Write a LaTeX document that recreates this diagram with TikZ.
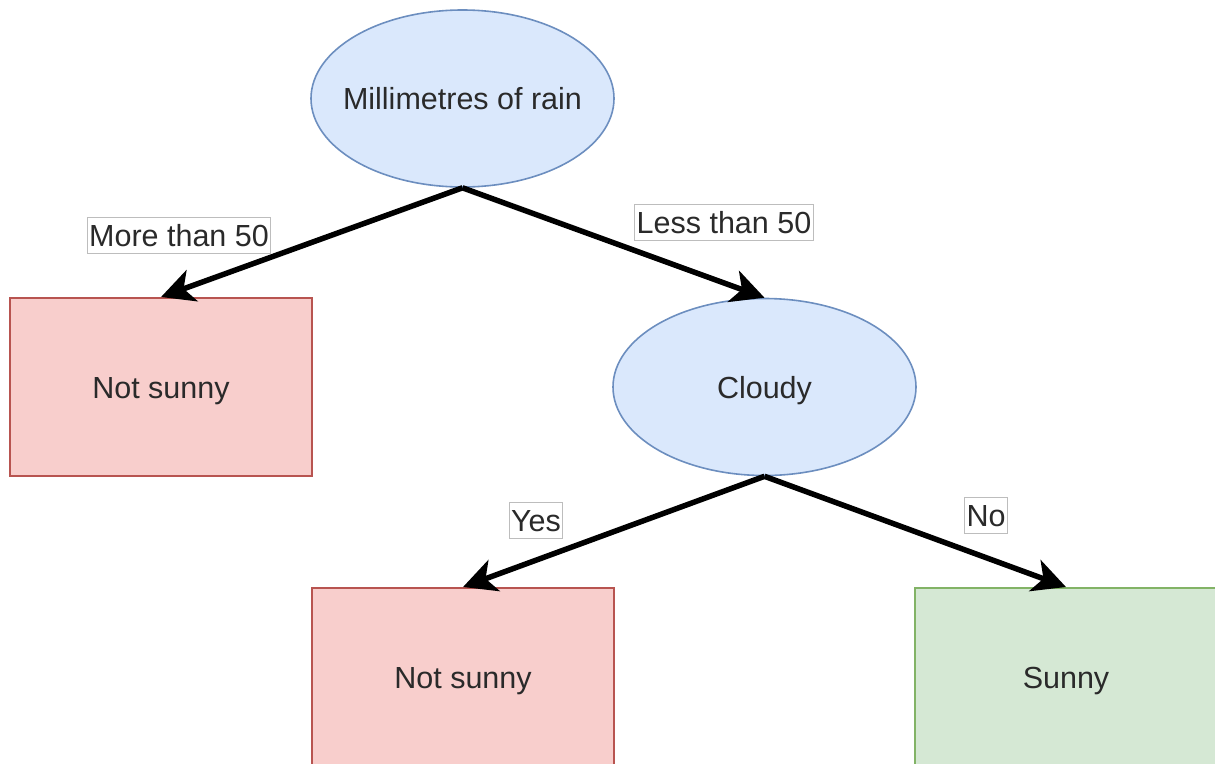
\documentclass[tikz,border=0pt]{standalone}
\usepackage{fontspec}
\setmainfont{Liberation Sans}
\usetikzlibrary{shapes.geometric,arrows.meta}
\definecolor{qfill}{HTML}{DAE8FC}
\definecolor{qline}{HTML}{6C8EBF}
\definecolor{nfill}{HTML}{F8CECC}
\definecolor{nline}{HTML}{B85450}
\definecolor{yfill}{HTML}{D5E8D4}
\definecolor{yline}{HTML}{82B366}
\definecolor{lblline}{HTML}{BDBDBD}
\definecolor{txt}{HTML}{2A2A2A}
\tikzset{
  every node/.style={font=\fontsize{30.5}{36}\selectfont, text=txt,
    text height=22pt, text depth=0pt},
  question/.style={ellipse, draw=qline, fill=qfill, line width=1.6pt,
    minimum width=303pt, minimum height=177pt,
    inner xsep=-40pt, inner ysep=0pt},
  leafno/.style={rectangle, draw=nline, fill=nfill, line width=2pt,
    minimum width=302pt, minimum height=178pt, inner sep=0pt},
  leafyes/.style={rectangle, draw=yline, fill=yfill, line width=2pt,
    minimum width=302pt, minimum height=178pt, inner sep=0pt},
  branch/.style={draw=black, line width=5.5pt,
    -{Stealth[length=33pt, width=33pt, inset=9pt]}},
  edgelabel/.style={rectangle, draw=lblline, fill=white, line width=1pt,
    inner xsep=2pt, inner ysep=0pt, minimum height=36pt}
}
\begin{document}
\begin{tikzpicture}[x=1pt, y=-1pt]
  \useasboundingbox (0,0) rectangle (1215,763);
  \clip (0,0) rectangle (1215,763);

  % decision nodes
  \node[question] (rain) at (462.5,98.5) {Millimetres of rain};
  \node[question] (cloudy) at (764.5,387) {Cloudy};

  % leaves
  \node[leafno] (notsunnyA) at (161,387) {Not sunny};
  \node[leafno] (notsunnyB) at (463,677) {Not sunny};
  \node[leafyes] (sunny) at (1066,677) {Sunny};

  % branches
  \draw[branch] (rain.south) -- (notsunnyA.north);
  \draw[branch] (rain.south) -- (cloudy.north);
  \draw[branch] (cloudy.south) -- (notsunnyB.north);
  \draw[branch] (cloudy.south) -- (sunny.north);

  % branch labels
  \node[edgelabel] (lmore) at (179,235) {More than 50};
  \node[edgelabel] (lless) at (724,222) {Less than 50};
  \node[edgelabel] (lyes) at (536,520.5) {Yes};
  \node[edgelabel] (lno) at (986,515) {No};
\end{tikzpicture}
\end{document}
